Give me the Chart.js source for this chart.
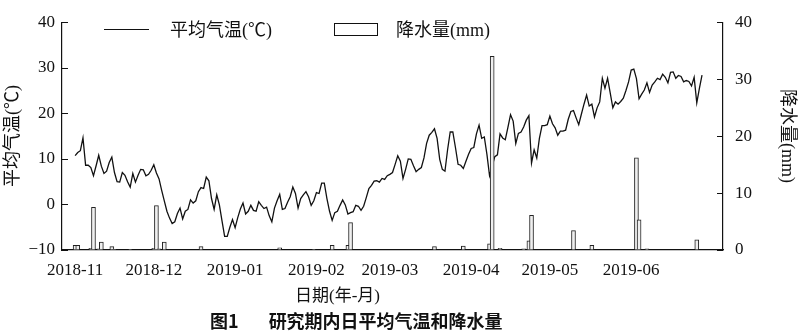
<!DOCTYPE html>
<html>
<head>
<meta charset="utf-8">
<script src="https://cdn.jsdelivr.net/npm/chart.js@4.4.0/dist/chart.umd.min.js"></script>
<style>
  body { margin: 0; background: #fff; }
  #wrap { position: relative; width: 800px; height: 332px; font-family: "Liberation Serif", "Noto Sans CJK SC", serif; color: #111; }
  #chart { position: absolute; left: 0; top: 0; }
  .txt { position: absolute; white-space: nowrap; font-size: 18px; line-height: 18px; }
  #lgLine { position: absolute; left: 104px; top: 29px; width: 45px; border-top: 1.3px solid #111; }
  #lgBox { position: absolute; left: 334px; top: 23px; width: 42px; height: 11px; border: 1px solid #111; background: #fff; }
  #caption { position: absolute; left: 210px; top: 311px; font-family: "Noto Sans CJK SC", sans-serif; font-weight: bold; font-size: 18px; line-height: 18px; white-space: nowrap; }
</style>
</head>
<body>
<div id="wrap">
  <canvas id="chart" width="800" height="332"></canvas>
  <div id="lgLine"></div>
  <div class="txt" style="left:170px; top:21px;">平均气温(℃)</div>
  <div id="lgBox"></div>
  <div class="txt" style="left:396px; top:21px;">降水量(mm)</div>
  <div class="txt" style="left:295px; top:287px; font-size:17px;">日期(年-月)</div>
  <div id="caption">图1<span style="margin-left:30px">研究期内日平均气温和降水量</span></div>
</div>
<script>
// daily mean temperature, 2018-11-01 .. 2019-06-28 (day index 0..239)
const tempValues = [
  10.7, 11.4, 11.8, 14.6, 8.6, 8.6, 8.1, 6.3, 8.5, 10.8,
  8.4, 6.8, 7.3, 9.2, 10.4, 7.0, 5.0, 4.9, 7.0, 6.4,
  5.0, 3.8, 6.8, 4.9, 6.4, 7.7, 7.6, 6.3, 6.6, 7.5,
  8.7, 6.9, 5.6, 3.1, 0.8, -1.5, -3.0, -4.2, -3.8, -2.0,
  -0.8, -3.2, -1.5, -1.1, 1.0, 0.3, 0.8, 2.8, 3.7, 3.5,
  6.0, 5.2, 1.3, -1.1, 2.1, -0.1, -3.6, -7.0, -7.0, -5.0,
  -3.3, -5.1, -2.9, -1.0, 0.3, -2.1, -1.5, -0.2, -1.3, -1.5,
  0.6, -0.2, -0.9, -0.6, -2.5, -3.8, -0.8, 0.8, 2.2, -1.1,
  -0.9, 0.5, 1.7, 3.8, 2.4, -0.8, 1.3, 2.1, 2.8, 1.7,
  -0.2, 0.8, 2.6, 2.4, 4.7, 4.7, 1.3, -1.5, -3.5, -1.8,
  -1.5, -0.2, 1.0, -0.1, -2.1, -1.8, -1.6, -0.2, -0.4, -1.3,
  -0.4, 1.5, 3.5, 4.2, 5.1, 5.2, 4.9, 5.7, 5.5, 6.3,
  6.6, 7.0, 8.8, 10.7, 9.5, 5.7, 7.7, 10.0, 9.9, 8.5,
  7.2, 7.7, 8.1, 10.2, 13.4, 15.2, 15.8, 16.6, 14.5, 9.9,
  7.7, 7.3, 12.0, 15.9, 15.9, 12.5, 8.8, 8.6, 7.9, 9.5,
  11.0, 12.3, 12.5, 15.5, 17.4, 14.5, 14.8, 11.0, 6.3, 8.4,
  10.5, 10.9, 15.5, 14.6, 14.2, 16.9, 19.7, 18.3, 13.4, 15.6,
  15.9, 17.0, 18.5, 19.5, 9.1, 12.0, 10.2, 14.5, 17.3, 17.3,
  17.5, 19.4, 17.7, 16.8, 15.2, 16.1, 16.1, 16.3, 18.7, 20.4,
  20.6, 19.0, 17.5, 19.8, 22.0, 24.0, 21.6, 22.0, 19.2, 21.2,
  22.5, 27.7, 25.5, 27.7, 24.5, 21.2, 22.5, 22.0, 22.6, 23.3,
  25.0, 26.9, 29.5, 29.7, 27.6, 23.2, 24.2, 25.1, 26.7, 24.6,
  26.2, 26.9, 27.7, 27.4, 28.6, 27.9, 26.7, 29.0, 29.1, 27.7,
  28.3, 28.1, 26.9, 27.2, 27.0, 26.0, 27.9, 22.3, 25.5, 28.4
];

// days with precipitation (day index) and amount in mm
const rainDays = [0, 1, 6, 7, 9, 10, 14, 15, 21, 30, 31, 32, 34, 48, 78, 91, 98, 104, 105,
  137, 148, 158, 159, 162, 171, 173, 174, 190, 197, 214, 215, 218, 237];
const rainAmounts = [0.8, 0.8, 0.3, 7.5, 0.2, 1.4, 0.6, 0.1, 0.1, 0.3, 7.8, 0.2, 1.4, 0.6, 0.4, 0.1, 0.8, 0.8, 4.8,
  0.6, 0.7, 1.1, 34, 0.3, 0.2, 1.6, 6.1, 3.4, 0.8, 16.2, 5.3, 0.2, 1.8];

// month starts (day index) and their labels
const monthTicks = [0, 30, 61, 92, 120, 151, 181, 212];
const monthLabels = ['2018-11', '2018-12', '2019-01', '2019-02', '2019-03', '2019-04', '2019-05', '2019-06'];

const fontFam = '"Liberation Serif", "Noto Sans CJK SC", serif';
const ink = '#111';

// short tick marks pointing into the plot on both y axes
const innerTicks = {
  id: 'innerTicks',
  afterDraw(chart) {
    const ctx = chart.ctx;
    ctx.save();
    ctx.strokeStyle = ink;
    ctx.lineWidth = 1;
    ['y', 'y1'].forEach(id => {
      const s = chart.scales[id];
      const x0 = id === 'y' ? chart.chartArea.left : chart.chartArea.right;
      const dir = id === 'y' ? 1 : -1;
      s.ticks.forEach(t => {
        const py = Math.round(s.getPixelForValue(t.value)) + 0.5;
        ctx.beginPath();
        ctx.moveTo(x0, py);
        ctx.lineTo(x0 + dir * 6, py);
        ctx.stroke();
      });
    });
    ctx.restore();
  }
};

const ctx = document.getElementById('chart').getContext('2d');
new Chart(ctx, {
  type: 'bar',
  data: {
    datasets: [
      {
        type: 'line',
        label: '平均气温(℃)',
        data: tempValues.map((v, i) => ({ x: i, y: v })),
        borderColor: ink,
        borderWidth: 1.3,
        pointRadius: 0,
        tension: 0,
        yAxisID: 'y',
        order: 2
      },
      {
        type: 'bar',
        label: '降水量(mm)',
        data: rainDays.map((d, i) => ({ x: d, y: rainAmounts[i] })),
        backgroundColor: '#efefef',
        borderColor: '#222',
        borderWidth: 1,
        barThickness: 4,
        yAxisID: 'y1',
        order: 1
      }
    ]
  },
  options: {
    responsive: false,
    animation: false,
    devicePixelRatio: 1,
    layout: { padding: { top: 15, left: 0, right: 0, bottom: 0 } },
    plugins: { legend: { display: false }, tooltip: { enabled: false } },
    scales: {
      x: {
        type: 'linear',
        offset: false,
        min: -5,
        max: 247,
        grid: { drawOnChartArea: false, drawTicks: false, offset: false },
        border: { display: true, color: ink, width: 1.2 },
        ticks: {
          color: ink,
          font: { family: fontFam, size: 17 },
          padding: 10,
          autoSkip: false,
          maxRotation: 0,
          callback: (v, i) => monthLabels[i]
        },
        afterBuildTicks: s => { s.ticks = monthTicks.map(v => ({ value: v })); },
        afterFit: s => { s.height = 82; }
      },
      y: {
        position: 'left',
        min: -10,
        max: 40,
        grid: { drawOnChartArea: false, drawTicks: false },
        border: { display: true, color: ink, width: 1.2 },
        ticks: {
          stepSize: 10,
          color: ink,
          padding: 7,
          font: { family: fontFam, size: 17 },
          callback: v => v < 0 ? '\u2212' + Math.abs(v) : v
        },
        title: {
          display: true,
          text: '平均气温(℃)',
          color: ink,
          font: { family: fontFam, size: 18 },
          padding: { top: 2, bottom: 0 }
        },
        afterFit: s => { s.width = 62; }
      },
      y1: {
        position: 'right',
        min: 0,
        max: 40,
        grid: { drawOnChartArea: false, drawTicks: false },
        border: { display: true, color: ink, width: 1.2 },
        ticks: {
          stepSize: 10,
          color: ink,
          padding: 12,
          font: { family: fontFam, size: 17 }
        },
        title: {
          display: true,
          text: '降水量(mm)',
          color: ink,
          font: { family: fontFam, size: 18 },
          padding: { top: 2, bottom: 0 }
        },
        afterFit: s => { s.width = 77; }
      }
    }
  },
  plugins: [innerTicks]
});
</script>
</body>
</html>
